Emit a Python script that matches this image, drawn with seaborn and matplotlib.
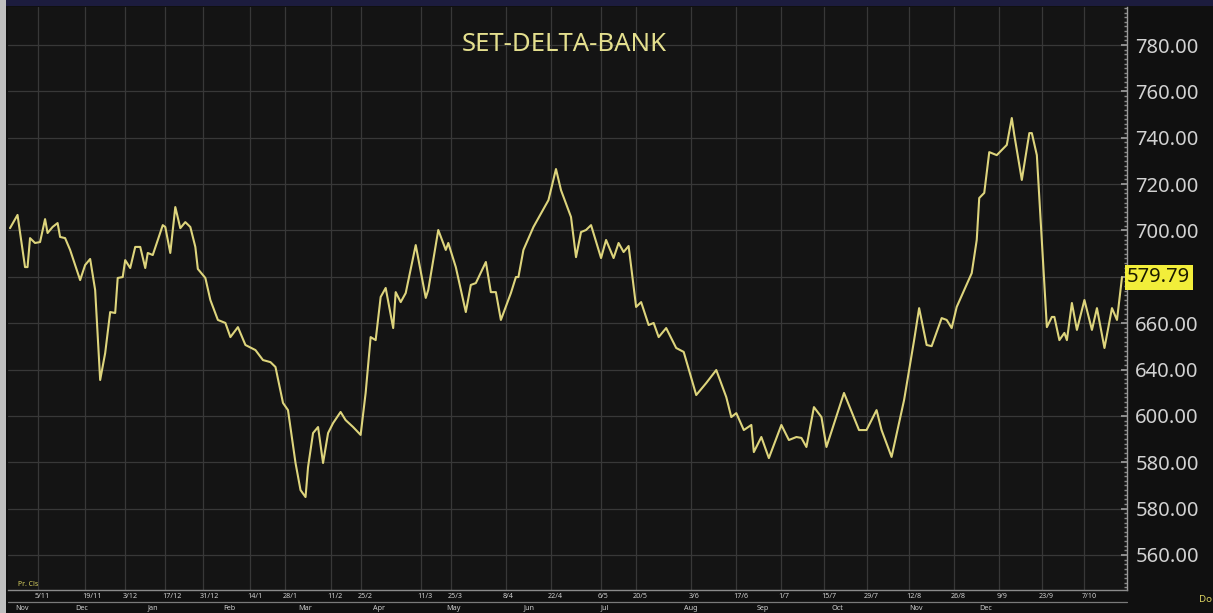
import matplotlib
matplotlib.use("Agg")
import matplotlib.pyplot as plt
import seaborn as sns
import pandas as pd
from matplotlib.patches import Rectangle
from matplotlib.lines import Line2D
from matplotlib.ticker import MultipleLocator, FixedLocator
import matplotlib.transforms as mtransforms

# ---------------- data ----------------
title = "SET-DELTA-BANK"
sessions = [0, 3, 6, 7, 8, 10, 12, 14, 15, 17, 19, 20, 22, 24, 28, 30, 32, 34, 36, 38,
            40, 42, 43, 45, 46, 48, 50, 52, 54, 55, 57, 59, 61, 62, 64, 66, 68, 70, 72, 74,
            75, 78, 80, 83, 86, 88, 91, 94, 98, 101, 104, 106, 109, 111, 114, 116, 118, 119, 121, 123,
            125, 127, 129, 132, 134, 137, 140, 142, 144, 146, 148, 150, 153, 154, 156, 158, 162, 166, 167, 171,
            174, 175, 178, 182, 184, 186, 190, 192, 194, 196, 200, 202, 203, 205, 209, 215, 218, 220, 224, 226,
            228, 230, 232, 236, 238, 241, 243, 245, 247, 250, 252, 255, 257, 259, 262, 266, 269, 274, 278, 282,
            286, 288, 290, 293, 296, 297, 300, 303, 308, 311, 314, 316, 318, 321, 324, 326, 333, 339, 342, 346,
            348, 352, 357, 359, 361, 363, 366, 368, 372, 374, 376, 378, 384, 386, 387, 389, 391, 394, 396, 398,
            400, 401, 404, 407, 408, 410, 414, 416, 417, 419, 421, 422, 424, 426, 429, 432, 434, 437, 440, 442,
            444]
index_values = [701.0, 706.7, 684.2, 684.2, 696.7, 694.6, 695.0, 704.9, 698.9, 701.5,
                703.2, 697.2, 696.7, 691.6, 678.6, 685.1, 687.7, 674.3, 635.5, 647.1,
                664.8, 664.4, 679.5, 679.9, 687.2, 683.8, 692.9, 692.9, 683.8, 690.3,
                689.4, 695.9, 702.3, 701.5, 690.3, 710.1, 701.0, 703.6, 701.5, 692.9,
                683.4, 679.5, 670.0, 661.4, 660.1, 654.0, 658.3, 650.6, 648.4, 644.1,
                643.2, 641.1, 625.6, 622.5, 599.7, 588.0, 585.0, 597.9, 612.6, 615.2,
                599.7, 612.6, 616.9, 621.7, 618.2, 615.2, 611.8, 629.9, 654.0, 652.7,
                671.3, 675.2, 657.9, 673.4, 669.1, 673.0, 693.7, 670.9, 674.3, 700.2,
                691.6, 694.6, 684.2, 664.8, 676.5, 677.3, 686.4, 673.4, 673.4, 661.4,
                673.0, 679.9, 679.9, 691.6, 701.5, 713.1, 726.5, 717.4, 705.8, 688.5,
                699.3, 700.2, 702.3, 688.1, 695.9, 688.1, 694.6, 690.7, 693.3, 667.0,
                669.1, 659.2, 660.1, 654.0, 657.9, 649.3, 647.6, 629.0, 634.2, 639.8,
                628.1, 619.5, 621.2, 613.9, 616.1, 604.4, 610.9, 601.8, 616.1, 609.6,
                610.9, 610.5, 606.6, 623.8, 619.5, 606.6, 629.9, 613.9, 613.9, 622.5,
                613.9, 602.3, 626.9, 639.8, 652.7, 666.5, 650.6, 650.1, 662.2, 661.4,
                657.9, 667.0, 681.6, 695.9, 714.0, 716.2, 733.8, 732.5, 734.7, 736.9,
                748.5, 741.2, 721.8, 742.0, 742.0, 732.5, 658.3, 662.7, 662.7, 652.7,
                655.8, 652.7, 668.7, 657.1, 670.0, 657.1, 666.5, 649.3, 666.5, 661.4,
                679.79]

y_ticks = [780, 760, 740, 720, 700, 680, 660, 640, 620, 600, 580, 560]
y_tick_labels = ["780.00", "760.00", "740.00", "720.00", "700.00", "",
                 "660.00", "640.00", "600.00", "580.00", "580.00", "560.00"]
last_label = "579.79"

grid_ticks = [11, 30, 46, 62, 77, 96, 110, 128, 140, 164, 176, 198, 216,
              236, 250, 272, 290, 308, 325, 342, 359, 377, 395, 412, 429]
row1_labels = ["5/11", "19/11", "3/12", "17/12", "31/12", "14/1", "28/1", "11/2", "25/2",
               "11/3", "25/3", "8/4", "22/4", "6/5", "20/5", "3/6", "17/6", "1/7", "15/7",
               "29/7", "12/8", "26/8", "9/9", "23/9", "7/10"]
row2_ticks = [2, 26, 55, 85, 115, 145, 174, 205, 236, 269, 298, 328, 359, 387]
row2_labels = ["Nov", "Dec", "Jan", "Feb", "Mar", "Apr", "May", "Jun",
               "Jul", "Aug", "Sep", "Oct", "Nov", "Dec"]

df = pd.DataFrame({"session": sessions, "value": index_values})

# ---------------- style ----------------
W, H = 1213, 613
BG = "#141414"
LINE = "#ddd47c"
GRID = "#383838"
TXT = "#d2d2d2"

sns.set_theme(style="dark")
plt.rcParams["font.family"] = ["Noto Sans", "DejaVu Sans"]

fig = plt.figure(figsize=(W / 100, H / 100), dpi=100, facecolor="#101010")
left, right, top, bottom = 8, 1127, 7, 590
ax = fig.add_axes([left / W, (H - bottom) / H, (right - left) / W, (bottom - top) / H])
ax.set_facecolor(BG)

sns.lineplot(data=df, x="session", y="value", ax=ax, color=LINE, linewidth=1.5,
             estimator=None, sort=False)

ax.set_xlim(-0.8, 446)
ax.set_ylim(544.9, 796.4)

# y axis on the right
ax.yaxis.tick_right()
ax.yaxis.set_major_locator(FixedLocator(y_ticks))
ax.set_yticklabels(y_tick_labels)
ax.yaxis.set_minor_locator(MultipleLocator(2))
ax.tick_params(axis="y", which="major", direction="in", length=4, color="#9a9a9a",
               labelsize=14.5, labelcolor=TXT, pad=6, right=True, left=False)
ax.tick_params(axis="y", which="minor", direction="in", length=2, color="#8a8a8a",
               right=True, left=False)

# x gridlines
ax.xaxis.set_major_locator(FixedLocator(grid_ticks))
ax.set_xticklabels([])
ax.tick_params(axis="x", which="major", length=0, bottom=False)
ax.grid(True, which="major", color=GRID, linewidth=0.9)
ax.set_xlabel("")
ax.set_ylabel("")

for s in ["top", "left"]:
    ax.spines[s].set_visible(False)
ax.spines["right"].set_color("#9a9a9a")
ax.spines["right"].set_linewidth(1.0)
ax.spines["bottom"].set_color("#8a8a8a")
ax.spines["bottom"].set_linewidth(1.0)

# title
ax.text(0.497, 0.935, title, transform=ax.transAxes, ha="center", va="center",
        color="#e4df8e", fontsize=18.5)

# last value highlight
ax.text(1.0, index_values[-1], last_label,
        transform=mtransforms.blended_transform_factory(ax.transAxes, ax.transData),
        ha="left", va="center", fontsize=14.5, color="#1a1a00",
        bbox=dict(boxstyle="square,pad=0.12", facecolor="#f2ee3a", edgecolor="none"))

# bottom date rows
trans = mtransforms.blended_transform_factory(ax.transData, fig.transFigure)
for t, lab in zip(grid_ticks, row1_labels):
    fig.text(0, 1 - 597 / H, lab, transform=trans, fontsize=5.2, color="#cfcfcf",
             ha="left", va="center", position=(t - 1.2, 1 - 597 / H))
for t, lab in zip(row2_ticks, row2_labels):
    fig.text(0, 1 - 608 / H, lab, transform=trans, fontsize=5.2, color="#cfcfcf",
             ha="left", va="center", position=(t, 1 - 608 / H))

fig.add_artist(Line2D([left / W, right / W], [1 - 602 / H, 1 - 602 / H],
                      transform=fig.transFigure, color="#7a7a7a", linewidth=0.9))

fig.text(18 / W, 1 - 585 / H, "Pr. Cls", fontsize=5, color="#d8d060", ha="left", va="center")
fig.text(1199 / W, 1 - 600 / H, "Do", fontsize=7, color="#d8d060", ha="left", va="center")

# top navy band and left strip
fig.add_artist(Rectangle((0, 1 - 6 / H), 1, 6 / H, transform=fig.transFigure,
                         facecolor="#1c1c3e", edgecolor="none"))
fig.add_artist(Rectangle((0, 0), 6 / W, 1, transform=fig.transFigure,
                         facecolor="#bfbfbf", edgecolor="none"))

fig.savefig("out.png", dpi=100, facecolor=fig.get_facecolor())
